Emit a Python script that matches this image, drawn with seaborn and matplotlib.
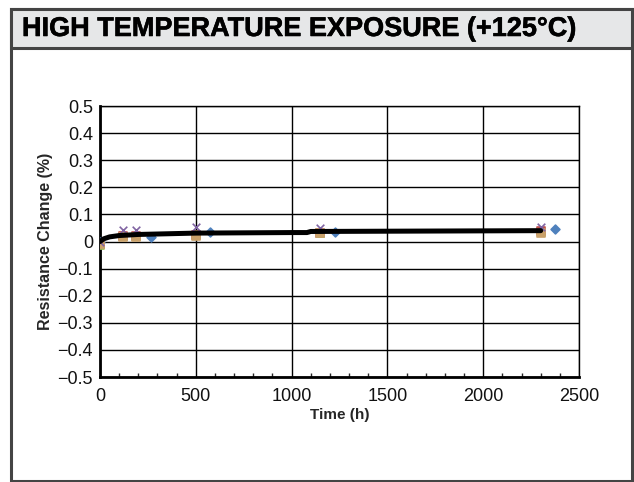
import numpy as np
import pandas as pd
import seaborn as sns
import matplotlib.pyplot as plt
import matplotlib.patheffects as pe
from matplotlib.patches import Rectangle
from matplotlib.ticker import MultipleLocator

# Measured samples (time in hours, resistance change in %)
times_main = [0, 120, 190, 500, 1150, 2300]
times_blue = [0, 265, 575, 1225, 2375]
blue_vals = [0.0, 0.018, 0.035, 0.035, 0.047]
red_vals = [-0.01, 0.02, 0.02, 0.025, 0.03, 0.04]
green_vals = [-0.012, 0.02, 0.022, 0.028, 0.032, 0.035]
purple_vals = [0.0, 0.042, 0.042, 0.052, 0.05, 0.055]
tan_vals = [-0.008, 0.015, 0.015, 0.02, 0.03, 0.03]

# Trend line
trend_t = [0, 20, 50, 100, 200, 500, 1000, 1080, 1100, 2300]
trend_v = [0.0, 0.01, 0.017, 0.022, 0.026, 0.031, 0.033, 0.033, 0.037, 0.04]

title = 'HIGH TEMPERATURE EXPOSURE (+125°C)'

sns.set_style('white')
plt.rcParams['font.family'] = ['Liberation Sans', 'DejaVu Sans']

fig = plt.figure(figsize=(6.34, 4.82), dpi=100)
W, H = 634, 482

# outer frame and title bar (behind the axes)
fig.patches.append(Rectangle((11 / W, 1 / H), 621 / W, 472 / H, transform=fig.transFigure,
                             facecolor='white', edgecolor='#444444', linewidth=2.2, zorder=-20))
fig.patches.append(Rectangle((11 / W, (H - 48) / H), 621 / W, 39 / H, transform=fig.transFigure,
                             facecolor='#e6e7e8', edgecolor='#444444', linewidth=2.2, zorder=-19))
fig.text(22 / W, (H - 29) / H, title, fontsize=19.5, fontweight='bold', va='center', ha='left',
         color='black', path_effects=[pe.withStroke(linewidth=0.4, foreground='black')])

ax = fig.add_axes([100 / W, (H - 377) / H, 479 / W, 271 / H])
ax.patch.set_alpha(0)

series = [
    (times_blue, blue_vals, '#4f81bd', 'D', 20),
    (times_main, red_vals, '#c0504d', 's', 26),
    (times_main, green_vals, '#9bbb59', '^', 26),
    (times_main, tan_vals, '#c9a16a', 's', 26),
    (times_main, purple_vals, '#8064a2', 'x', 30),
]
for t, v, c, m, s in series:
    sns.scatterplot(x=t, y=v, color=c, marker=m, s=s, ax=ax, zorder=3,
                    edgecolor=c if m != 'x' else None, linewidth=1.2, legend=False)

sns.lineplot(x=trend_t, y=trend_v, color='black', linewidth=3.6, ax=ax, zorder=4)

ax.set_xlim(0, 2500)
ax.set_ylim(-0.5, 0.5)
ax.xaxis.set_major_locator(MultipleLocator(500))
ax.xaxis.set_minor_locator(MultipleLocator(100))
ax.set_yticks(np.arange(-0.5, 0.51, 0.1))
ax.set_yticklabels([f'{v:.1f}'.replace('-', '\u2212') if abs(v) > 1e-9 else '0'
                    for v in np.arange(-0.5, 0.51, 0.1)])
ax.grid(True, which='major', color='black', linewidth=1.0)
for sp in ax.spines.values():
    sp.set_color('black')
    sp.set_linewidth(1.0)
ax.spines['bottom'].set_linewidth(2.0)
ax.spines['left'].set_linewidth(2.0)
ax.tick_params(axis='both', which='major', length=0, labelsize=13, labelcolor='#111111')
ax.tick_params(axis='y', which='major', pad=5)
ax.tick_params(axis='x', which='major', pad=8)
ax.tick_params(axis='x', which='minor', direction='in', length=3, width=1, bottom=True)
ax.set_xlabel('Time (h)', fontsize=11, fontweight='bold', labelpad=2)
ax.set_ylabel('Resistance Change (%)', fontsize=11.5, fontweight='bold', labelpad=3)

fig.savefig('out.png', dpi=100)
